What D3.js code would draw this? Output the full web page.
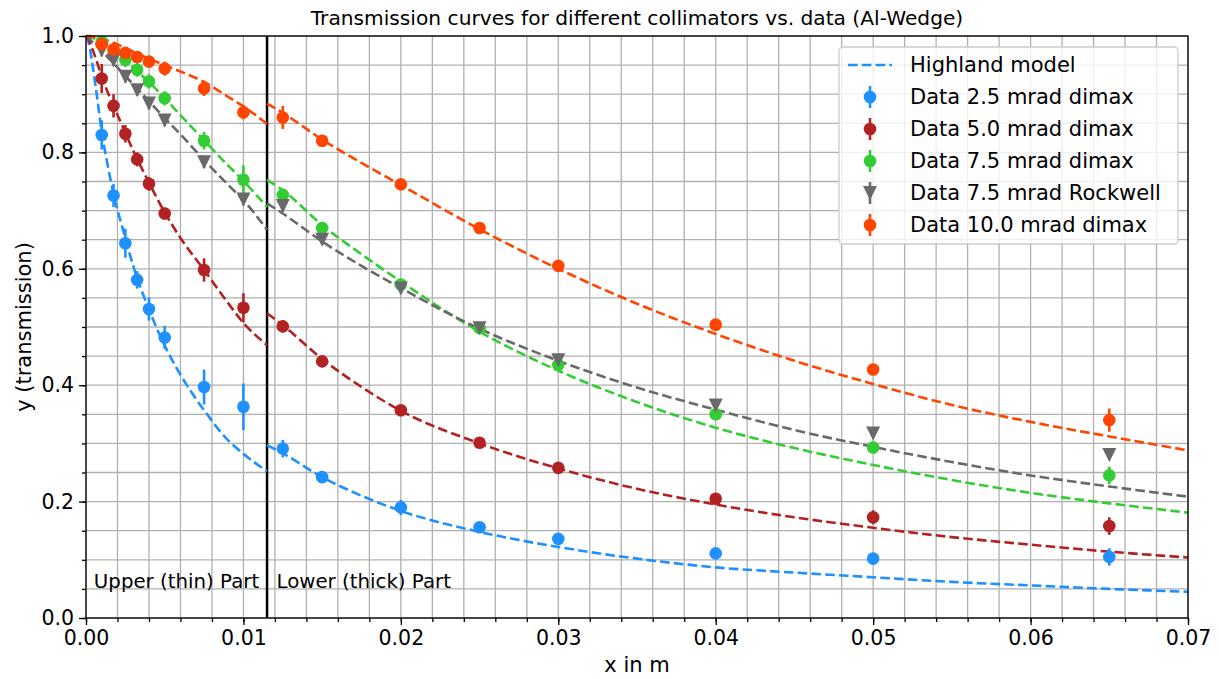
<!DOCTYPE html>
<html>
<head>
<meta charset="utf-8">
<script src="https://cdn.jsdelivr.net/npm/d3@7"></script>
<style>
  body { margin: 0; background: #fff; }
  text { font-family: "DejaVu Sans", sans-serif; fill: #000; }
</style>
</head>
<body>
<div id="chart"></div>
<script>
// measured points (x in m)
var dataX = [0.001, 0.00175, 0.0025, 0.00325, 0.004, 0.005, 0.0075, 0.01,
             0.0125, 0.015, 0.02, 0.025, 0.03, 0.04, 0.05, 0.065];

var blue25 = [0.830, 0.726, 0.644, 0.581, 0.531, 0.482, 0.397, 0.363,
              0.291, 0.242, 0.190, 0.156, 0.136, 0.111, 0.102, 0.105];
var blue25Err = [0.025, 0.02, 0.025, 0.015, 0.02, 0.02, 0.03, 0.04,
                 0.015, 0.008, 0.013, 0.008, 0.008, 0.008, 0.008, 0.015];

var red50 = [0.927, 0.880, 0.832, 0.788, 0.746, 0.695, 0.598, 0.533,
             0.501, 0.441, 0.357, 0.301, 0.258, 0.205, 0.173, 0.158];
var red50Err = [0.025, 0.02, 0.015, 0.012, 0.012, 0.01, 0.02, 0.025,
                0.01, 0.008, 0.008, 0.006, 0.006, 0.008, 0.012, 0.015];

var green75 = [0.990, 0.975, 0.959, 0.942, 0.922, 0.893, 0.820, 0.753,
               0.727, 0.670, 0.573, 0.498, 0.435, 0.350, 0.293, 0.245];
var green75Err = [0.01, 0.01, 0.012, 0.012, 0.012, 0.012, 0.015, 0.025,
                  0.01, 0.01, 0.01, 0.008, 0.008, 0.01, 0.01, 0.015];

var gray75 = [0.975, 0.958, 0.930, 0.907, 0.884, 0.855, 0.783, 0.719,
              0.708, 0.650, 0.566, 0.498, 0.443, 0.365, 0.317, 0.280];
var gray75Err = [0.01, 0.01, 0.01, 0.01, 0.01, 0.01, 0.01, 0.01,
                 0.01, 0.008, 0.008, 0.008, 0.008, 0.008, 0.008, 0.008];

var orange100 = [0.986, 0.977, 0.971, 0.964, 0.956, 0.944, 0.910, 0.869,
                 0.860, 0.820, 0.745, 0.670, 0.605, 0.504, 0.427, 0.340];
var orange100Err = [0.01, 0.01, 0.01, 0.01, 0.01, 0.012, 0.013, 0.012,
                    0.02, 0.008, 0.008, 0.006, 0.008, 0.008, 0.008, 0.02];

// Highland model, upper (thin) part
var modelXUpper = [0, 0.0002, 0.0004, 0.0007, 0.001, 0.0014, 0.0018, 0.0023,
                   0.003, 0.004, 0.005, 0.006, 0.0075, 0.009, 0.01, 0.0115];
var blueUpper   = [1.0, 0.985, 0.953, 0.896, 0.835, 0.775, 0.722, 0.672,
                   0.605, 0.530, 0.468, 0.418, 0.357, 0.306, 0.282, 0.252];
var redUpper    = [1.0, 0.992, 0.978, 0.955, 0.930, 0.902, 0.877, 0.846,
                   0.803, 0.748, 0.697, 0.653, 0.598, 0.542, 0.507, 0.469];
var greenUpper  = [1.0, 0.999, 0.997, 0.994, 0.990, 0.983, 0.974, 0.962,
                   0.945, 0.921, 0.893, 0.864, 0.821, 0.778, 0.751, 0.706];
var grayUpper   = [1.0, 0.996, 0.990, 0.983, 0.975, 0.963, 0.952, 0.937,
                   0.917, 0.888, 0.859, 0.831, 0.787, 0.745, 0.718, 0.667];
var orangeUpper = [1.0, 1.0, 0.999, 0.997, 0.995, 0.992, 0.988, 0.982,
                   0.973, 0.961, 0.950, 0.939, 0.921, 0.896, 0.879, 0.849];

// Highland model, lower (thick) part
var modelXLower = [0.0115, 0.0125, 0.015, 0.0175, 0.02, 0.025, 0.03, 0.035,
                   0.04, 0.045, 0.05, 0.055, 0.06, 0.065, 0.07];
var blueLower   = [0.297, 0.283, 0.242, 0.210, 0.184, 0.148, 0.122, 0.102,
                   0.087, 0.078, 0.070, 0.062, 0.056, 0.050, 0.045];
var redLower    = [0.5235, 0.503, 0.445, 0.397, 0.356, 0.300, 0.257, 0.222,
                   0.195, 0.173, 0.155, 0.139, 0.126, 0.114, 0.104];
var greenLower  = [0.753, 0.735, 0.675, 0.625, 0.578, 0.492, 0.425, 0.371,
                   0.327, 0.292, 0.263, 0.237, 0.215, 0.197, 0.181];
var grayLower   = [0.7125, 0.695, 0.647, 0.605, 0.567, 0.497, 0.442, 0.396,
                   0.358, 0.323, 0.294, 0.268, 0.245, 0.226, 0.2085];
var orangeLower = [0.884, 0.868, 0.822, 0.782, 0.744, 0.668, 0.600, 0.540,
                   0.488, 0.442, 0.402, 0.366, 0.337, 0.312, 0.288];

var xTicks = [0, 0.01, 0.02, 0.03, 0.04, 0.05, 0.06, 0.07];
var yTicks = [0, 0.2, 0.4, 0.6, 0.8, 1.0];
var splitX = 0.0115;

var series = [
    {label: "Data 2.5 mrad dimax", color: "#1e90ff", marker: "o", y: blue25, err: blue25Err, up: blueUpper, low: blueLower},
    {label: "Data 5.0 mrad dimax", color: "#b22222", marker: "o", y: red50, err: red50Err, up: redUpper, low: redLower},
    {label: "Data 7.5 mrad dimax", color: "#32cd32", marker: "o", y: green75, err: green75Err, up: greenUpper, low: greenLower},
    {label: "Data 7.5 mrad Rockwell", color: "#696969", marker: "v", y: gray75, err: gray75Err, up: grayUpper, low: grayLower},
    {label: "Data 10.0 mrad dimax", color: "#ff4500", marker: "o", y: orange100, err: orange100Err, up: orangeUpper, low: orangeLower}
];

var W = 1219, H = 679;
var margin = {top: 36, right: 31, bottom: 61, left: 86},
    width = W - margin.left - margin.right,
    height = H - margin.top - margin.bottom;

var svg = d3.select("#chart").append("svg")
    .attr("width", W)
    .attr("height", H);

var g = svg.append("g")
    .attr("transform", "translate(" + margin.left + "," + margin.top + ")");

var x = d3.scaleLinear().domain([0, 0.07]).range([0, width]);
var y = d3.scaleLinear().domain([0, 1]).range([height, 0]);

// grid (major + minor)
var xMinor = d3.range(0, 0.0701, 0.002);
var yMinor = d3.range(0, 1.001, 0.05);
g.append("g").selectAll("line").data(xMinor).enter().append("line")
    .attr("x1", d => x(d)).attr("x2", d => x(d))
    .attr("y1", 0).attr("y2", height)
    .attr("stroke", "#b0b0b0").attr("stroke-width", 1.3);
g.append("g").selectAll("line").data(yMinor).enter().append("line")
    .attr("y1", d => y(d)).attr("y2", d => y(d))
    .attr("x1", 0).attr("x2", width)
    .attr("stroke", "#b0b0b0").attr("stroke-width", 1.3);

// axes
var xAxis = g.append("g")
    .attr("transform", "translate(0," + height + ")")
    .call(d3.axisBottom(x).tickValues(xTicks).tickFormat(d3.format(".2f")).tickSize(7).tickPadding(5));
var yAxis = g.append("g")
    .call(d3.axisLeft(y).tickValues(yTicks).tickFormat(d3.format(".1f")).tickSize(7).tickPadding(5));
g.append("g")
    .attr("transform", "translate(0," + height + ")")
    .call(d3.axisBottom(x).tickValues(xMinor).tickFormat("").tickSize(4));
g.append("g")
    .call(d3.axisLeft(y).tickValues(yMinor).tickFormat("").tickSize(4));
g.selectAll(".domain").remove();
g.selectAll(".tick line").attr("stroke", "#000").attr("stroke-width", 1.3);
g.selectAll(".tick text").attr("font-size", "20.5px").attr("font-family", "DejaVu Sans").attr("fill", "#000");

// split line
g.append("line")
    .attr("x1", x(splitX)).attr("x2", x(splitX))
    .attr("y1", 0).attr("y2", height)
    .attr("stroke", "#000").attr("stroke-width", 2.5);

g.append("text").attr("x", x(0.0005)).attr("y", y(0.05) - 1)
    .attr("font-size", "19.8px").text("Upper (thin) Part");
g.append("text").attr("x", x(0.0121)).attr("y", y(0.05) - 1)
    .attr("font-size", "19.8px").text("Lower (thick) Part");

// model curves
var line = d3.line()
    .x(d => x(d[0])).y(d => y(d[1]))
    .curve(d3.curveMonotoneX);
series.forEach(function (s) {
    [[modelXUpper, s.up], [modelXLower, s.low]].forEach(function (pair) {
        g.append("path")
            .datum(pair[0].map((v, i) => [v, pair[1][i]]))
            .attr("d", line)
            .attr("fill", "none")
            .attr("stroke", s.color)
            .attr("stroke-width", 2.6)
            .attr("stroke-dasharray", "9.6,4.2");
    });
});

// data with error bars
function drawMarker(sel, s, r) {
    if (s.marker === "v") {
        sel.append("path")
            .attr("d", "M" + (-r) + "," + (-r) + "L" + r + "," + (-r) + "L0," + r + "Z")
            .attr("fill", s.color);
    } else {
        sel.append("circle").attr("r", r).attr("fill", s.color);
    }
}
series.forEach(function (s) {
    var pts = dataX.map((v, i) => ({x: v, y: s.y[i], e: s.err[i]}));
    var grp = g.append("g");
    grp.selectAll(".eb").data(pts).enter().append("line")
        .attr("x1", d => x(d.x)).attr("x2", d => x(d.x))
        .attr("y1", d => y(d.y - d.e)).attr("y2", d => y(d.y + d.e))
        .attr("stroke", s.color).attr("stroke-width", 2.6);
    grp.selectAll(".pt").data(pts).enter().append("g")
        .attr("transform", d => "translate(" + x(d.x) + "," + y(d.y) + ")")
        .each(function () { drawMarker(d3.select(this), s, s.marker === "v" ? 7 : 6.3); });
});

// frame
g.append("rect").attr("width", width).attr("height", height)
    .attr("fill", "none").attr("stroke", "#000").attr("stroke-width", 1.3);

// title + labels
svg.append("text").attr("x", margin.left + width / 2).attr("y", 25)
    .attr("text-anchor", "middle").attr("font-size", "20.2px")
    .text("Transmission curves for different collimators vs. data (Al-Wedge)");
svg.append("text").attr("x", margin.left + width / 2).attr("y", 672)
    .attr("text-anchor", "middle").attr("font-size", "21px")
    .text("x in m");
svg.append("text").attr("transform", "translate(31," + (margin.top + height / 2) + ") rotate(-90)")
    .attr("text-anchor", "middle").attr("font-size", "21px")
    .text("y (transmission)");

// legend
var lg = svg.append("g").attr("transform", "translate(839,47)");
lg.append("rect").attr("width", 339).attr("height", 197).attr("rx", 4)
    .attr("fill", "#fff").attr("fill-opacity", 0.8)
    .attr("stroke", "#cccccc").attr("stroke-width", 1.3);
var rowY = function (i) { return 18 + i * 32; };
lg.append("line").attr("x1", 9).attr("x2", 53).attr("y1", rowY(0)).attr("y2", rowY(0))
    .attr("stroke", "#1e90ff").attr("stroke-width", 2.6).attr("stroke-dasharray", "9.6,4.2");
lg.append("text").attr("x", 71).attr("y", rowY(0)).attr("dy", "0.35em")
    .attr("font-size", "21px").text("Highland model");
series.forEach(function (s, i) {
    var row = lg.append("g").attr("transform", "translate(31," + rowY(i + 1) + ")");
    row.append("line").attr("y1", -11).attr("y2", 11)
        .attr("stroke", s.color).attr("stroke-width", 2.6);
    drawMarker(row, s, s.marker === "v" ? 7 : 6.3);
    lg.append("text").attr("x", 71).attr("y", rowY(i + 1)).attr("dy", "0.35em")
        .attr("font-size", "21px").text(s.label);
});
</script>
</body>
</html>
